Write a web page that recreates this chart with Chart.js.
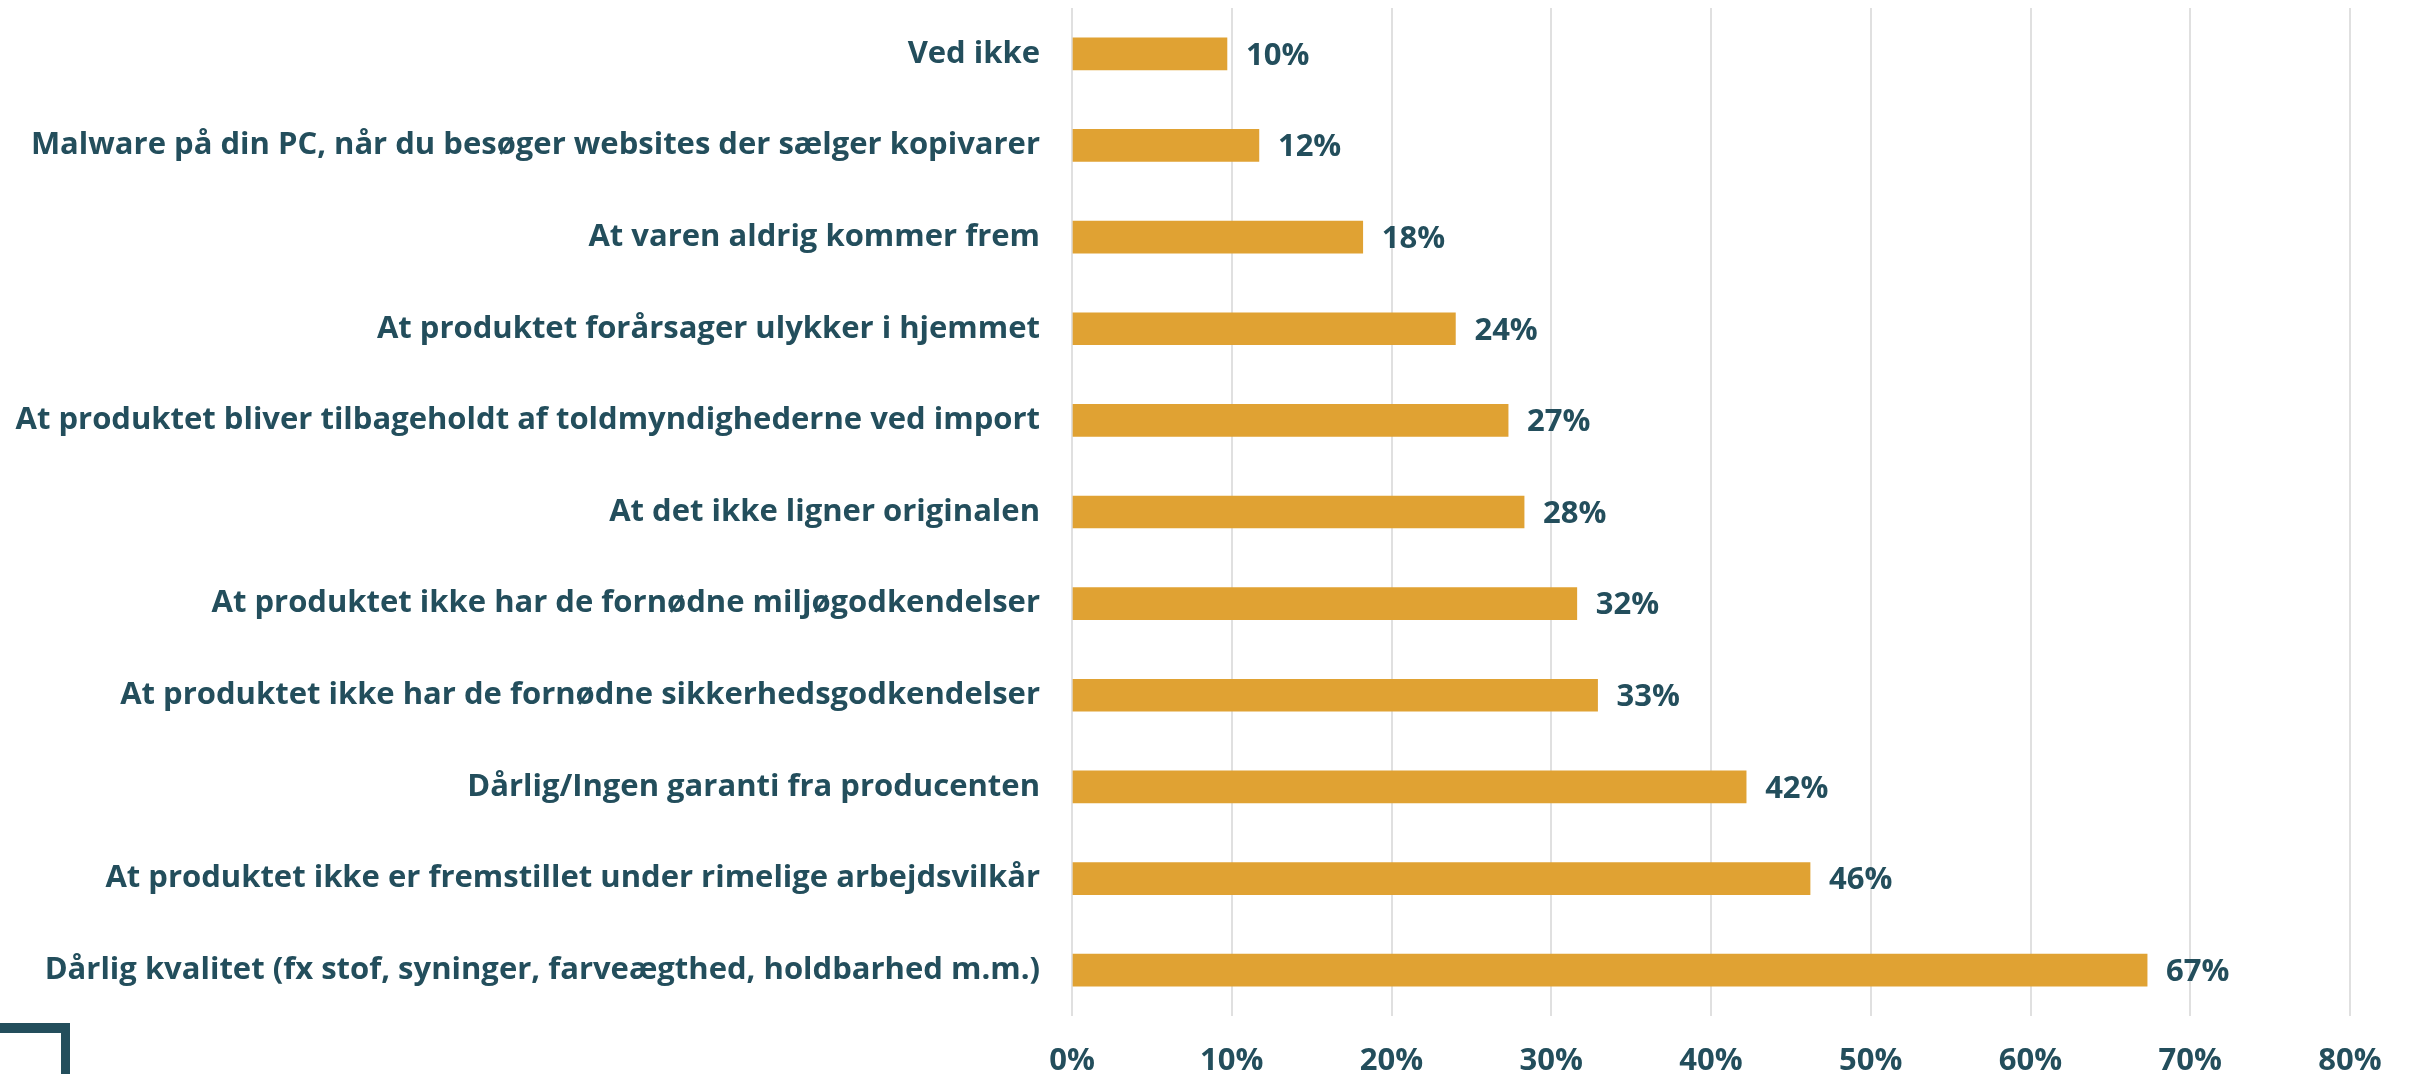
<!DOCTYPE html>
<html>
<head>
<meta charset="utf-8">
<script src="https://cdn.jsdelivr.net/npm/chart.js@4"></script>
<style>
  html, body { margin: 0; padding: 0; background: #fff; overflow: hidden; }
  #wrap { position: relative; width: 2412px; height: 1074px; }
  #corner {
    position: absolute; left: 0; top: 1023px; width: 61px; height: 60px;
    border-top: 10px solid #234e5c; border-right: 9px solid #234e5c;
  }
</style>
</head>
<body>
<div id="wrap">
  <canvas id="risks" width="2412" height="1074"></canvas>
  <div id="corner"></div>
</div>
<script>
const categories = [
  'Ved ikke',
  'Malware på din PC, når du besøger websites der sælger kopivarer',
  'At varen aldrig kommer frem',
  'At produktet forårsager ulykker i hjemmet',
  'At produktet bliver tilbageholdt af toldmyndighederne ved import',
  'At det ikke ligner originalen',
  'At produktet ikke har de fornødne miljøgodkendelser',
  'At produktet ikke har de fornødne sikkerhedsgodkendelser',
  'Dårlig/Ingen garanti fra producenten',
  'At produktet ikke er fremstillet under rimelige arbejdsvilkår',
  'Dårlig kvalitet (fx stof, syninger, farveægthed, holdbarhed m.m.)'
];
const shares = [9.7, 11.7, 18.2, 24.0, 27.3, 28.3, 31.6, 32.9, 42.2, 46.2, 67.3];
const tickValues = [0, 10, 20, 30, 40, 50, 60, 70, 80];

const textColor = '#234e5c';
const barColor = '#e0a233';
const fontFamily = '"Open Sans", "Liberation Sans", sans-serif';

// value labels right of each bar
const valueLabels = {
  id: 'valueLabels',
  afterDatasetsDraw(chart) {
    const ctx = chart.ctx;
    const meta = chart.getDatasetMeta(0);
    ctx.save();
    ctx.fillStyle = textColor;
    ctx.font = 'bold 31px ' + fontFamily;
    ctx.textAlign = 'left';
    ctx.textBaseline = 'middle';
    meta.data.forEach((bar, i) => {
      ctx.fillText(Math.round(shares[i]) + '%', bar.x + 19, bar.y + 2);
    });
    ctx.restore();
  }
};

new Chart(document.getElementById('risks'), {
  type: 'bar',
  data: {
    labels: categories,
    datasets: [{
      data: shares,
      backgroundColor: barColor,
      barThickness: 32
    }]
  },
  options: {
    indexAxis: 'y',
    responsive: false,
    animation: false,
    layout: { padding: { top: 8, right: 62, left: 0, bottom: 0 } },
    plugins: {
      legend: { display: false },
      tooltip: { enabled: false }
    },
    scales: {
      x: {
        min: 0,
        max: 80,
        afterBuildTicks: (scale) => { scale.ticks = tickValues.map(v => ({ value: v })); },
        afterFit: (scale) => { scale.height = 58; scale.paddingLeft = 0; scale.paddingRight = 0; },
        grid: { color: '#e0e0e0', lineWidth: 2, drawTicks: false },
        border: { display: false },
        ticks: {
          color: textColor,
          padding: 30,
          font: { family: fontFamily, size: 31, weight: 'bold', lineHeight: 1 },
          callback: (v) => v + '%'
        }
      },
      y: {
        grid: { display: false, drawTicks: false },
        border: { display: false },
        afterFit: (scale) => { scale.width = 1072; scale.paddingTop = 0; scale.paddingBottom = 0; },
        ticks: {
          color: textColor,
          padding: 32,
          font: { family: fontFamily, size: 31, weight: 'bold' }
        }
      }
    }
  },
  plugins: [valueLabels]
});
</script>
</body>
</html>
